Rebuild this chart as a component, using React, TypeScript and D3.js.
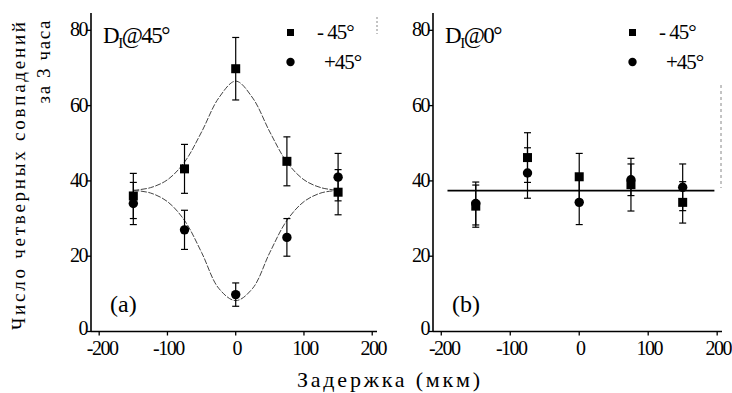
import React from "react";
import * as d3 from "d3";

const delays = [-150, -75, 0, 75, 150];
const leftMinus = [36, 43.2, 69.8, 45.2, 37];
const leftMinusErr = [6, 6.5, 8.3, 6.5, 6];
const leftPlus = [34, 27, 9.8, 25, 41];
const leftPlusErr = [5.6, 5.2, 3.1, 5, 6.3];
const rightMinus = [33.3, 46.2, 41.1, 39, 34.3];
const rightMinusErr = [5.6, 6.6, 6.2, 7, 5.5];
const rightPlus = [34, 42.1, 34.3, 40.3, 38.3];
const rightPlusErr = [5.7, 6.7, 5.9, 4.2, 6.2];

const fitX = [-150, -125, -100, -75, -50, -25, 0, 25, 50, 75, 100, 125, 150];
const fitUpper = [37.5, 38.2, 40.3, 45, 53, 62, 66.5, 62, 53, 45, 40.3, 38.2, 37.5];
const fitLower = [37.5, 36.8, 34.5, 29.5, 21, 11.5, 8.2, 11.5, 21, 29.5, 34.5, 36.8, 37.5];
const flatX = [-191, 196];
const flatY = [37.4, 37.4];

const xTicks = [-200, -100, 0, 100, 200];
const yTicks = [0, 20, 40, 60, 80];
const legendLabels = ["- 45°", "+45°"];

const FONT = "Liberation Serif, DejaVu Serif, serif";

type PanelProps = {
  x0: number;
  x1: number;
  minus: number[];
  minusErr: number[];
  plus: number[];
  plusErr: number[];
  title: string;
  tag: string;
  left: boolean;
};

function Panel({ x0, x1, minus, minusErr, plus, plusErr, title, tag, left }: PanelProps) {
  const x = d3.scaleLinear().domain([-212, 207]).range([x0, x1]);
  const y = d3.scaleLinear().domain([0, 84.6]).range([331.5, 13]);
  const line = d3
    .line<[number, number]>()
    .x((d) => x(d[0]))
    .y((d) => y(d[1]))
    .curve(d3.curveCatmullRom);
  const upper = line(fitX.map((v, i) => [v, fitUpper[i]] as [number, number])) || "";
  const lower = line(fitX.map((v, i) => [v, fitLower[i]] as [number, number])) || "";
  const flat =
    d3
      .line<[number, number]>()
      .x((d) => x(d[0]))
      .y((d) => y(d[1]))(flatX.map((v, i) => [v, flatY[i]] as [number, number])) || "";

  const errBar = (cx: number, v: number, e: number, key: string) => (
    <g key={key} stroke="#000" strokeWidth={1.2}>
      <line x1={x(cx)} x2={x(cx)} y1={y(v + e)} y2={y(v - e)} />
      <line x1={x(cx) - 3.5} x2={x(cx) + 3.5} y1={y(v + e)} y2={y(v + e)} />
      <line x1={x(cx) - 3.5} x2={x(cx) + 3.5} y1={y(v - e)} y2={y(v - e)} />
    </g>
  );

  return (
    <g style={{ fontFamily: FONT }}>
      {/* axes */}
      <line x1={x0} x2={x0} y1={13} y2={y(0)} stroke="#000" strokeWidth={1.6} />
      <line x1={x0} x2={x1} y1={y(0)} y2={y(0)} stroke="#000" strokeWidth={1.6} />
      {yTicks.map((t) => (
        <g key={"y" + t}>
          <line x1={x0 - 4} x2={x0} y1={y(t)} y2={y(t)} stroke="#000" strokeWidth={1.3} />
          <text
            x={x0 - 4}
            y={y(t) + (t === 0 ? 3 : 6)}
            textAnchor="end"
            fontSize={20}
            letterSpacing={-1.5}
          >
            {t}
          </text>
        </g>
      ))}
      {xTicks.map((t) => (
        <g key={"x" + t}>
          <line x1={x(t)} x2={x(t)} y1={y(0)} y2={y(0) + 4} stroke="#000" strokeWidth={1.3} />
          <text
            x={x(t) + (t === -200 ? 3 : 1)}
            y={355}
            textAnchor="middle"
            fontSize={20}
            letterSpacing={-1.5}
          >
            {t}
          </text>
        </g>
      ))}

      {/* fits */}
      {left ? (
        <g fill="none" stroke="#444" strokeWidth={1} strokeDasharray="6,1.5">
          <path d={upper} />
          <path d={lower} />
        </g>
      ) : (
        <path d={flat} fill="none" stroke="#000" strokeWidth={1.8} />
      )}

      {/* error bars */}
      {delays.map((d, i) => errBar(d, minus[i], minusErr[i], "em" + i))}
      {delays.map((d, i) => errBar(d, plus[i], plusErr[i], "ep" + i))}

      {/* markers */}
      {delays.map((d, i) => (
        <rect
          key={"m" + i}
          x={x(d) - 4.5}
          y={y(minus[i]) - 4.5}
          width={9}
          height={9}
          fill="#000"
        />
      ))}
      {delays.map((d, i) => (
        <circle key={"p" + i} cx={x(d)} cy={y(plus[i])} r={4.7} fill="#000" />
      ))}

      {/* title */}
      <text x={x0 + 12} y={43} fontSize={23} letterSpacing={-1.5}>
        D
        <tspan fontSize={15} dy={5}>
          I
        </tspan>
        <tspan dy={-5}>{title}</tspan>
      </text>

      {/* legend */}
      <rect x={x0 + 196} y={29} width={7} height={7} fill="#000" />
      <text x={x0 + 226} y={39} fontSize={21} letterSpacing={-1}>
        {legendLabels[0]}
      </text>
      <circle cx={x0 + 199.5} cy={62} r={4.2} fill="#000" />
      <text x={x0 + 233} y={69} fontSize={21} letterSpacing={-1}>
        {legendLabels[1]}
      </text>

      {/* panel tag */}
      <text x={x0 + 19} y={312} fontSize={24}>
        {tag}
      </text>
    </g>
  );
}

export default function App() {
  return (
    <svg
      width={732}
      height={393}
      style={{ position: "absolute", left: 0, top: 0, background: "#fff" }}
    >
      <rect x={0} y={0} width={732} height={393} fill="#fff" />
      <Panel
        x0={91}
        x1={377}
        minus={leftMinus}
        minusErr={leftMinusErr}
        plus={leftPlus}
        plusErr={leftPlusErr}
        title="@45°"
        tag="(a)"
        left={true}
      />
      <Panel
        x0={433}
        x1={722}
        minus={rightMinus}
        minusErr={rightMinusErr}
        plus={rightPlus}
        plusErr={rightPlusErr}
        title="@0°"
        tag="(b)"
        left={false}
      />
      {/* scan artifacts */}
      <line x1={377} x2={377} y1={17} y2={34} stroke="#888" strokeWidth={1} strokeDasharray="2,2" />
      <line x1={721} x2={721} y1={85} y2={188} stroke="#888" strokeWidth={1} strokeDasharray="3,3" />

      {/* axis labels */}
      <g style={{ fontFamily: FONT }}>
        <text
          transform="translate(25,176) rotate(-90)"
          textAnchor="middle"
          fontSize={19}
          textLength={308}
          lengthAdjust="spacing"
        >
          Число четверных совпадений
        </text>
        <text
          transform="translate(50,62) rotate(-90)"
          textAnchor="middle"
          fontSize={19}
          textLength={83}
          lengthAdjust="spacing"
        >
          за 3 часа
        </text>
        <text x={297} y={387} fontSize={22} textLength={183} lengthAdjust="spacing">
          Задержка (мкм)
        </text>
      </g>
    </svg>
  );
}
